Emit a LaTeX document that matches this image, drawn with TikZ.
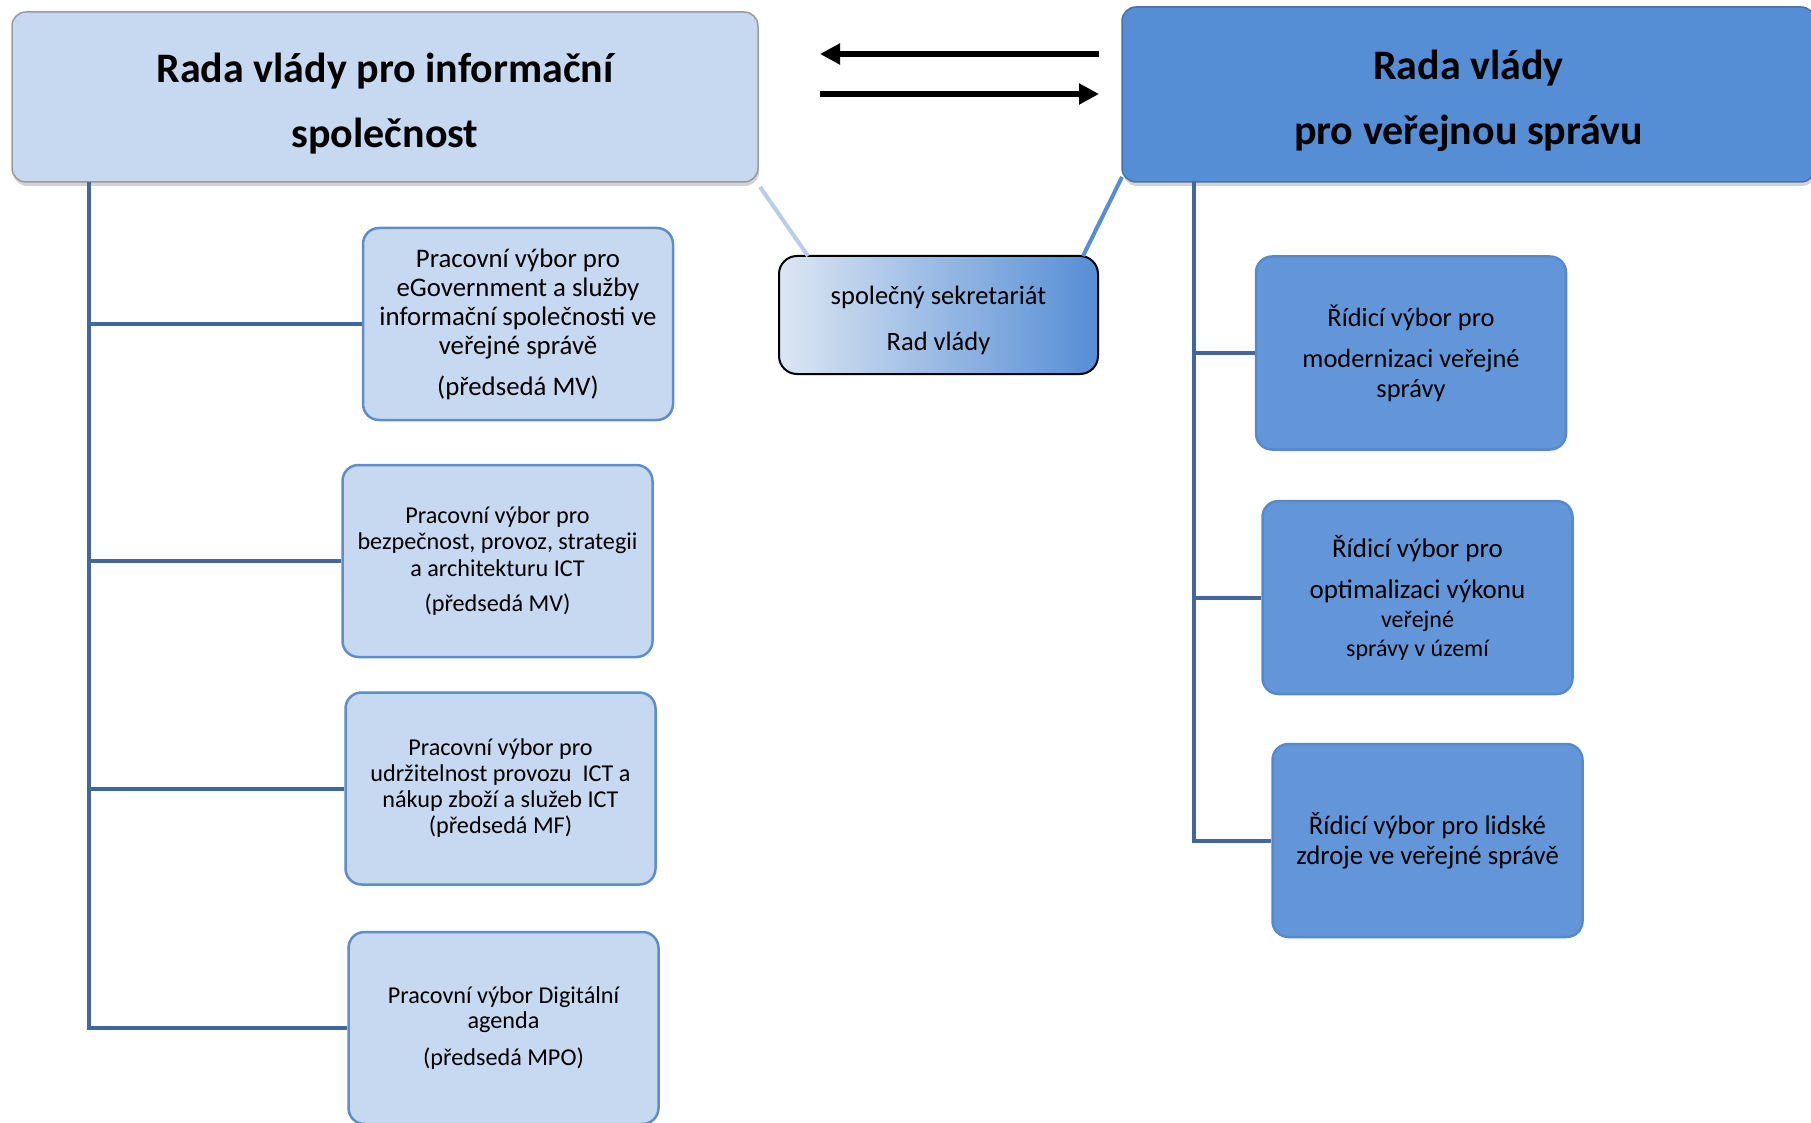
\documentclass[tikz,border=0pt]{standalone}
\usepackage{fontspec}
\setmainfont{Carlito}
\usetikzlibrary{arrows.meta,shadows}
\definecolor{lightfill}{HTML}{C6D9F1}
\definecolor{lightborder}{HTML}{5F8DC8}
\definecolor{midfill}{HTML}{558ED5}
\definecolor{subfill}{HTML}{6396D8}
\definecolor{subborder}{HTML}{5888CC}
\definecolor{trunkcol}{HTML}{41689C}
\definecolor{graybord}{HTML}{9A9A9A}
\definecolor{seclight}{HTML}{DCE6F3}
\definecolor{linklight}{HTML}{B9CDE8}
\tikzset{
  topbox/.style={rounded corners=14pt, draw=graybord, line width=1.5pt, align=center, inner sep=0pt,
    drop shadow={shadow xshift=1pt, shadow yshift=-4pt, opacity=0.35},
    font=\fontsize{42}{65}\selectfont\bfseries},
  lbox/.style={rounded corners=16pt, draw=lightborder, fill=lightfill, line width=2.5pt, align=center,
    inner sep=0pt, minimum width=310pt, minimum height=192pt},
  rbox/.style={rounded corners=16pt, draw=subborder, fill=subfill, line width=2.5pt, align=center,
    inner sep=0pt, minimum width=310pt, minimum height=193pt},
  trunk/.style={draw=trunkcol, line width=4pt},
  bigarrow/.style={line width=6.5pt, -{Triangle[length=20pt,width=20pt]}},
}
\begin{document}
\begin{tikzpicture}[x=1pt,y=-1pt]
\useasboundingbox (0,0) rectangle (1811,1123);
% top boxes
\node[topbox, fill=lightfill, minimum width=746pt, minimum height=170pt] (L) at (385,97)
  {\rule{0pt}{42pt}Rada vlády pro informační\\společnost};
\node[topbox, fill=midfill, draw=midfill!80!black, minimum width=693pt, minimum height=175pt] (R) at (1468.5,94.5)
  {\rule{0pt}{42pt}Rada vlády\\pro veřejnou správu};
% secretariat
\node[rounded corners=18pt, draw=black, line width=2pt, left color=seclight, right color=midfill,
  minimum width=319pt, minimum height=118pt, inner sep=0pt, align=center,
  font=\fontsize{26.5}{46}\selectfont] (S) at (938.5,315) {\rule{0pt}{30pt}společný sekretariát\\Rad vlády};
% links from top boxes to secretariat
\coordinate (lk1) at (760,187);
\coordinate (lk2) at (808,256);
\coordinate (rk1) at (1122,177);
\coordinate (rk2) at (1083,256);
\draw[draw=linklight, line width=4pt] (lk1) -- (lk2);
\draw[draw=midfill, line width=4pt] (rk1) -- (rk2);
% arrows
\coordinate (a1s) at (1099,54);
\coordinate (a1e) at (820,54);
\coordinate (a2s) at (820,94);
\coordinate (a2e) at (1099,94);
\draw[bigarrow] (a1s) -- (a1e);
\draw[bigarrow] (a2s) -- (a2e);
% left sub boxes
\node[lbox, font=\fontsize{26.8}{29}\selectfont] (p1) at (518,324)
  {Pracovní výbor pro\\eGovernment a služby\\informační společnosti ve\\veřejné správě\\[12pt](předsedá MV)};
\node[lbox, font=\fontsize{24.2}{26.5}\selectfont] (p2) at (497.5,561)
  {Pracovní výbor pro\\bezpečnost, provoz, strategii\\a architekturu ICT\\[9pt](předsedá MV)};
\node[lbox, font=\fontsize{24.2}{26}\selectfont] (p3) at (500.5,788.5)
  {Pracovní výbor pro\\udržitelnost provozu\ \ ICT a\\nákup zboží a služeb ICT\\(předsedá MF)};
\node[lbox, font=\fontsize{24.2}{25}\selectfont] (p4) at (503.5,1028)
  {Pracovní výbor Digitální\\agenda\\[12pt](předsedá MPO)};
% right sub boxes
\node[rbox, font=\fontsize{26.4}{30}\selectfont] (r1) at (1411,353)
  {Řídicí výbor pro\\[11pt]modernizaci veřejné\\správy};
\node[rbox, font=\fontsize{27}{29}\selectfont] (r2) at (1417.5,597.5)
  {Řídicí výbor pro\\[12pt]optimalizaci výkonu\\{\fontsize{24}{28}\selectfont veřejné}\\{\fontsize{24}{28}\selectfont správy v území}};
\node[rbox, font=\fontsize{26.8}{30}\selectfont] (r3) at (1427.5,840.5)
  {Řídicí výbor pro lidské\\zdroje ve veřejné správě};
% trunks
\coordinate (lt) at (89,182);
\coordinate (rt) at (1194,182);
\draw[trunk] (lt) |- (p4.west);
\draw[trunk] (lt |- p1.west) -- (p1.west);
\draw[trunk] (lt |- p2.west) -- (p2.west);
\draw[trunk] (lt |- p3.west) -- (p3.west);
\draw[trunk] (rt) |- (r3.west);
\draw[trunk] (rt |- r1.west) -- (r1.west);
\draw[trunk] (rt |- r2.west) -- (r2.west);
\end{tikzpicture}
\end{document}
